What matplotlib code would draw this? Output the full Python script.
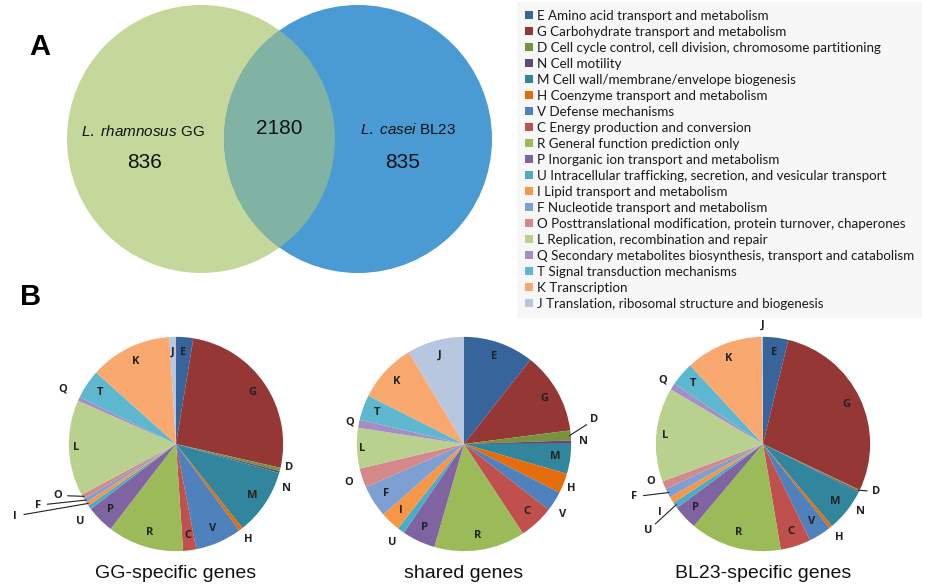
import numpy as np
import matplotlib.pyplot as plt
from matplotlib.patches import Circle, Patch

# COG functional categories
codes = ["E", "G", "D", "N", "M", "H", "V", "C", "R", "P",
         "U", "I", "F", "O", "L", "Q", "T", "K", "J"]
descriptions = [
    "Amino acid transport and metabolism",
    "Carbohydrate transport and metabolism",
    "Cell cycle control, cell division, chromosome partitioning",
    "Cell motility",
    "Cell wall/membrane/envelope biogenesis",
    "Coenzyme transport and metabolism",
    "Defense mechanisms",
    "Energy production and conversion",
    "General function prediction only",
    "Inorganic ion transport and metabolism",
    "Intracellular trafficking, secretion, and vesicular transport",
    "Lipid transport and metabolism",
    "Nucleotide transport and metabolism",
    "Posttranslational modification, protein turnover, chaperones",
    "Replication, recombination and repair",
    "Secondary metabolites biosynthesis, transport and catabolism",
    "Signal transduction mechanisms",
    "Transcription",
    "Translation, ribosomal structure and biogenesis",
]
cog_colors = ["#37649b", "#953735", "#77933c", "#604a7b", "#31859c",
              "#e46c0a", "#4f81bd", "#c0504d", "#9bbb59", "#8064a2",
              "#4bacc6", "#f79646", "#7e9fd2", "#d4888a", "#b9d18f",
              "#a48fc5", "#5db7cf", "#f9a870", "#b8c7e0"]

# percentage of genes per category
gg_specific = [2.6, 26.0, 0.5, 0.3, 10.0, 0.6, 7.0, 2.0, 11.5, 4.2,
               0.6, 0.6, 0.6, 0.7, 14.5, 0.6, 4.4, 12.4, 1.0]
shared = [10.6, 12.3, 1.5, 0.5, 4.5, 3.0, 3.0, 5.2, 13.7, 5.0,
          1.1, 3.0, 4.8, 2.9, 6.1, 1.2, 3.8, 8.9, 8.6]
bl23_specific = [3.8, 28.3, 0.2, 0.2, 6.4, 0.5, 3.4, 4.6, 13.8, 3.7,
                 0.9, 1.0, 1.4, 1.2, 14.2, 1.0, 3.6, 11.7, 0.2]

# gene counts for the Venn diagram
only_gg = 836
in_both = 2180
only_bl23 = 835

arial = "Liberation Sans"
plt.rcParams["mathtext.fontset"] = "custom"
plt.rcParams["mathtext.rm"] = arial
plt.rcParams["mathtext.it"] = arial + ":italic"

W, H = 925, 587
fig = plt.figure(figsize=(W / 100, H / 100), dpi=100)

# pixel-space axes for the Venn diagram and panel letters
canvas = fig.add_axes([0, 0, 1, 1])
canvas.set_xlim(0, W)
canvas.set_ylim(H, 0)
canvas.axis("off")

green, blue, overlap = "#c5d89b", "#4a9ad4", "#80b3a4"
left = Circle((201, 139), 134, facecolor=green, edgecolor="none")
right = Circle((358, 139), 134, facecolor=blue, edgecolor="none")
canvas.add_patch(left)
canvas.add_patch(right)
lens = Circle((201, 139), 134, facecolor=overlap, edgecolor="none")
canvas.add_patch(lens)
lens.set_clip_path(right)

canvas.text(143, 132, r"$\it{L.\ rhamnosus}$ GG", ha="center", va="center",
            fontsize=11, family=arial, color="#111")
canvas.text(145, 163, str(only_gg), ha="center", va="center", fontsize=15,
            family=arial, color="#111")
canvas.text(279, 128, str(in_both), ha="center", va="center", fontsize=15,
            family=arial, color="#111")
canvas.text(408, 129, r"$\it{L.\ casei}$ BL23", ha="center", va="center",
            fontsize=11, family=arial, color="#111")
canvas.text(403, 162, str(only_bl23), ha="center", va="center", fontsize=15,
            family=arial, color="#111")

canvas.text(40, 47, "A", ha="center", va="center", fontsize=21,
            fontweight="bold", family=arial)
canvas.text(31, 297, "B", ha="center", va="center", fontsize=21,
            fontweight="bold", family=arial)

# legend
handles = [Patch(facecolor=c, edgecolor="none") for c in cog_colors]
labels = [f"{c} {d}" for c, d in zip(codes, descriptions)]
fig.legend(handles, labels, loc="upper left",
           bbox_to_anchor=(517 / W, 1 - 2 / H), frameon=True,
           facecolor="#f6f6f6", edgecolor="none", fancybox=False,
           prop={"family": "Lato", "size": 9.6},
           handlelength=0.58, handleheight=0.58, handletextpad=0.3,
           labelspacing=0.3, borderpad=0.6, borderaxespad=0,
           labelcolor="#1a1a1a")


def draw_pie(cx, cy, values, title, label_pos, leaders):
    size = 300
    ax = fig.add_axes([(cx - size / 2) / W, (H - cy - size / 2) / H,
                       size / W, size / H])
    wedges, _ = ax.pie(values, colors=cog_colors, startangle=90,
                       counterclock=False, radius=1,
                       wedgeprops=dict(linewidth=0))
    ax.set_xlim(-1.4, 1.4)
    ax.set_ylim(-1.4, 1.4)
    ax.set_aspect("equal")
    ax.axis("off")
    for code, w in zip(codes, wedges):
        mid = np.deg2rad((w.theta1 + w.theta2) / 2)
        r, shift = label_pos.get(code, (0.86, 0))
        ang = mid - np.deg2rad(shift)
        x, y = r * np.cos(ang), r * np.sin(ang)
        ax.text(x, y, code, ha="center", va="center", fontsize=8,
                fontweight="bold", family="Open Sans", color="#222",
                clip_on=False)
        if code in leaders:
            ex, ey = 0.99 * np.cos(mid), 0.99 * np.sin(mid)
            d = np.hypot(ex - x, ey - y)
            sx = x + (ex - x) / d * 0.09
            sy = y + (ey - y) / d * 0.09
            ax.plot([sx, ex], [sy, ey], color="#222", lw=0.8,
                    clip_on=False)
    fig.text(cx / W, 1 - 573 / H, title, ha="center", va="center",
             fontsize=14, family=arial, color="#111")


draw_pie(176, 444, gg_specific, "GG-specific genes",
         {"D": (1.08, -2), "N": (1.11, 7), "H": (1.12, 0), "U": (1.15, -3),
          "I": (1.65, 10), "F": (1.41, 8), "O": (1.2, 6), "Q": (1.18, 1),
          "L": (0.93, 0)},
         ["I", "F", "O"])
draw_pie(464, 444, shared, "shared genes",
         {"D": (1.24, -6), "N": (1.12, 0), "H": (1.08, 1), "V": (1.13, 3),
          "U": (1.14, 0), "O": (1.13, 0), "Q": (1.09, 0), "L": (0.95, 0)},
         ["D"])
draw_pie(763, 444, bl23_specific, "BL23-specific genes",
         {"J": (1.11, 0), "D": (1.15, -3), "N": (1.11, 8), "H": (1.13, 0),
          "U": (1.34, -2), "I": (1.15, -2), "F": (1.3, 5), "O": (1.11, 4),
          "Q": (1.11, 0), "L": (0.92, 0)},
         ["D", "U", "F"])

fig.savefig("out.png", dpi=100)
